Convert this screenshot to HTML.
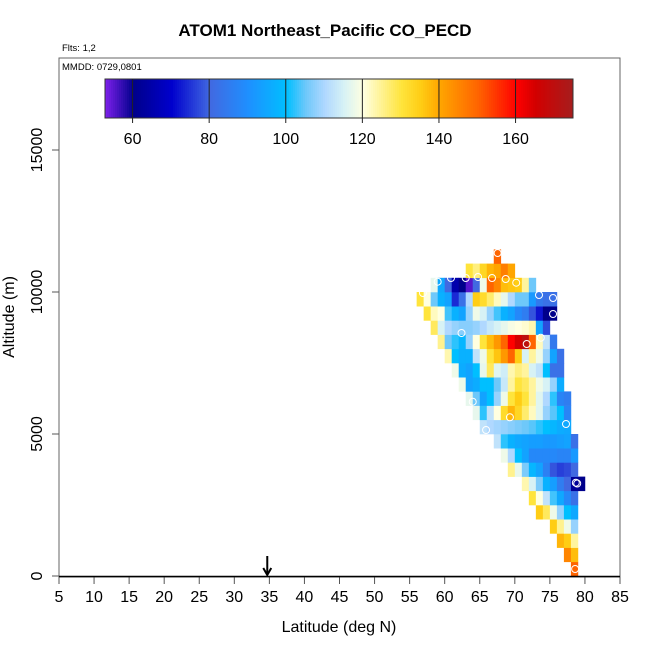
<!DOCTYPE html>
<html><head><meta charset="utf-8"><style>
body{margin:0;background:#fff;}
svg{display:block;font-family:"Liberation Sans",sans-serif;}
</style></head><body>
<svg id="chart" width="650" height="650" viewBox="0 0 650 650">
<text x="325" y="36" text-anchor="middle" font-size="17" font-weight="bold">ATOM1 Northeast_Pacific CO_PECD</text>
<text x="62" y="51" font-size="9.5">Flts: 1,2</text>
<rect x="59" y="58" width="561" height="519" fill="none" stroke="#666" stroke-width="1"/>
<text x="62" y="70" font-size="9.5">MMDD: 0729,0801</text>
<g id="cells"></g>
<g id="circles"></g>
<g id="cbar"></g>
<g id="axes"></g>
<text x="339" y="632" text-anchor="middle" font-size="16">Latitude (deg N)</text>
<text transform="translate(14,317) rotate(-90)" text-anchor="middle" font-size="16">Altitude (m)</text>
<g>
<line id="arrowLine" stroke="#000" stroke-width="2"/>
<path id="arrowHead" fill="none" stroke="#000" stroke-width="2"/>
</g>
</svg>
<script>
// Altitude bins (bottom of bin, m), first latitude of row, and cell values (ppb)
const binAlt = [0,500,1000,1500,2000,2500,3000,3500,4000,4500,5000,5500,6000,6500,7000,7500,8000,8500,9000,9500,10000,10500,11000];
const rowStartLat = [78,77,76,75,73,72,71,69,68,67,65,64,63,62,61,60,59,58,57,56,58,63,67];
const rowValues = [
 [150],
 [145,137],
 [138,135,124],
 [135,125,118,108],
 [135,128,118,108,100,95],
 [130,120,112,103,95,88,82],
 [123,115,106,97,93,85,80,62,60],
 [125,117,106,98,94,86,78,76,77,80],
 [118,110,100,94,88,88,88,88,87,87,92],
 [112,102,97,95,94,93,93,92,92,93,94,82],
 [112,110,109,108,107,106,105,104,102,100,98,96,95],
 [117,102,112,120,132,138,133,127,122,116,108,104,100,87],
 [117,105,94,100,108,118,130,135,130,124,116,110,102,87,85],
 [118,94,96,100,100,105,113,124,130,128,124,118,115,108,96],
 [118,96,94,100,117,128,116,114,123,126,124,115,112,100,82,82],
 [123,100,97,97,112,118,130,136,142,150,135,115,124,118,108,94,82],
 [125,105,102,98,108,120,130,137,142,150,160,165,170,150,122,112,84],
 [128,115,110,108,107,107,108,110,113,115,117,119,120,121,123,94,77],
 [130,122,120,103,97,94,108,118,115,108,103,97,94,88,85,78,72,60,60],
 [130,120,105,97,94,74,82,110,135,132,127,122,117,110,105,105,92,84,82,82],
 [117,95,80,65,60,55,80,118,150,145,137,136,135,124,105],
 [130,126,133,138,140,146,140],
 [150]
];
// Open-circle sample locations
const ptLat = [59.0,60.9,63.0,64.75,66.75,68.7,70.2,56.9,73.45,75.45,75.45,62.4,73.7,71.7,67.55,64.0,69.3,77.3,65.9,78.7,78.9,78.6];
const ptAlt = [10363,10493,10493,10528,10493,10458,10327,9965,9894,9789,9225,8556,8391,8169,11373,6137,5588,5352,5141,3285,3257,246];
const xTicks = [5,10,15,20,25,30,35,40,45,50,55,60,65,70,75,80,85];
const yTicks = [0,5000,10000,15000];
const cbTicks = [60,80,100,120,140,160];
const arrowLat = 34.7;

const NS='http://www.w3.org/2000/svg';
const x = v => 59 + (v-5)*561/80;
const y = v => 576 - v*0.0284;
const cbMin=52.8, cbMax=175;
const cbx = v => 105 + (v-cbMin)*(573-105)/(cbMax-cbMin);
const stops=[[52.8,[122,31,232]],[60,[0,0,139]],[70,[0,0,205]],[80,[65,105,225]],[90,[30,144,255]],[100,[0,191,255]],[105,[110,200,250]],[110,[176,216,255]],[115,[215,242,245]],[120,[255,255,224]],[130,[255,228,60]],[135,[255,205,20]],[140,[255,165,0]],[150,[255,100,0]],[160,[255,0,0]],[165,[210,0,0]],[175,[165,30,30]]];
function col(v){
  if(v<=stops[0][0]) return 'rgb('+stops[0][1]+')';
  for(let i=1;i<stops.length;i++){
    if(v<=stops[i][0]){const a=stops[i-1],b=stops[i],t=(v-a[0])/(b[0]-a[0]);
      return 'rgb('+a[1].map((c,k)=>Math.round(c+(b[1][k]-c)*t)).join(',')+')';}
  }
  return 'rgb('+stops[stops.length-1][1]+')';
}
function mk(tag,attrs,parent){const e=document.createElementNS(NS,tag);for(const k in attrs)e.setAttribute(k,attrs[k]);parent.appendChild(e);return e;}

const cells=document.getElementById('cells');
binAlt.forEach((alt,i)=>{
  rowValues[i].forEach((v,j)=>{
    const lat=rowStartLat[i]+j;
    const r=mk('rect',{x:x(lat),y:y(alt+500),width:x(lat+1)-x(lat)+0.3,height:y(alt)-y(alt+500)+0.3,fill:col(v)},cells);
    
    
  });
});
const circ=document.getElementById('circles');
ptLat.forEach((la,i)=>{
  const c=mk('circle',{cx:x(la),cy:y(ptAlt[i]),r:3.5,fill:'none',stroke:'#fff','stroke-width':1},circ);
  
  
});
const cb=document.getElementById('cbar');
for(let p=105;p<573;p+=2){
  const v=cbMin+(p-105)*(cbMax-cbMin)/(573-105);
  const s=mk('rect',{x:p,y:79,width:2.3,height:39,fill:col(v)},cb);
  
  
}
const fr=mk('rect',{x:105,y:79,width:468,height:39,fill:'none',stroke:'#333','stroke-width':1},cb);


cbTicks.forEach(t=>{
  const l=mk('line',{x1:cbx(t),x2:cbx(t),y1:79,y2:123,stroke:'#222','stroke-width':1},cb);
  
  
  const tx=mk('text',{x:cbx(t),y:144,'text-anchor':'middle','font-size':16},cb);
  tx.textContent=t;
  
  
});
const ax=document.getElementById('axes');
xTicks.forEach(t=>{
  const l=mk('line',{x1:x(t),x2:x(t),y1:577,y2:584,stroke:'#555'},ax);
  
  
  const tx=mk('text',{x:x(t),y:602,'text-anchor':'middle','font-size':16},ax);
  tx.textContent=t;
  
  
});
yTicks.forEach(t=>{
  const l=mk('line',{x1:52,x2:59,y1:y(t),y2:y(t),stroke:'#555'},ax);
  
  
  const tx=mk('text',{transform:'translate(42,'+y(t)+') rotate(-90)','text-anchor':'middle','font-size':16},ax);
  tx.textContent=t;
  
  
});
const bl=mk('line',{x1:59,x2:620,y1:576.5,y2:576.5,stroke:'#000','stroke-width':1.5},ax);


const ax0=x(arrowLat);
const al=document.getElementById('arrowLine');
al.setAttribute('x1',ax0);al.setAttribute('x2',ax0);al.setAttribute('y1',556);al.setAttribute('y2',575);
document.getElementById('arrowHead').setAttribute('d','M'+(ax0-4)+' 568 L'+ax0+' 575 L'+(ax0+4)+' 568');
</script>
</body></html>
